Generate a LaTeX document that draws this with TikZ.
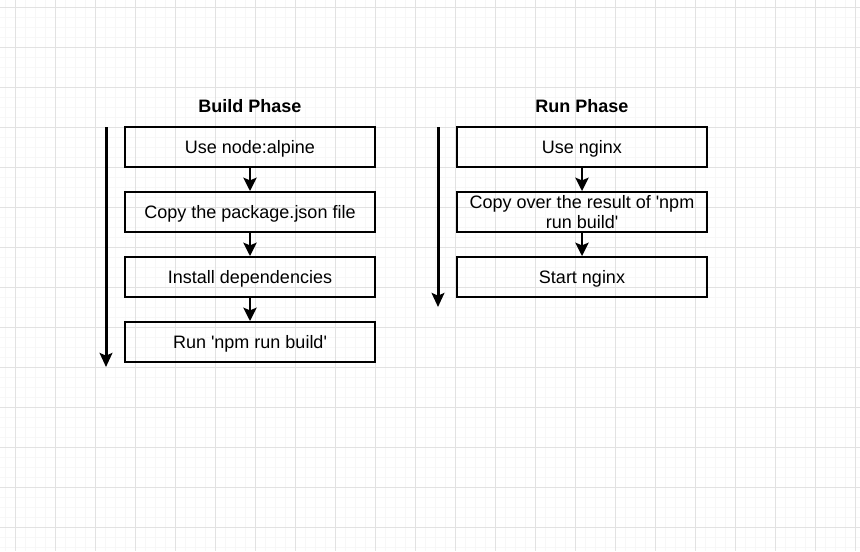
\documentclass[tikz,border=0pt]{standalone}
\usepackage{fontspec}
\setmainfont{Liberation Sans}
\usetikzlibrary{arrows.meta}
\definecolor{gmin}{HTML}{F7F7F7}
\definecolor{gmaj}{HTML}{E2E2E2}
\newcommand{\sq}{\textquotesingle}
\begin{document}
\begin{tikzpicture}[x=0.75pt,y=-0.75pt,
  box/.style={draw, line width=1.5pt, minimum width=187.5pt, minimum height=30pt,
    inner sep=0pt, font=\fontsize{13.5}{15.4}\selectfont},
  onebox/.style={box, text height=9.5pt, text depth=0pt},
  twobox/.style={box, align=center},
  title/.style={font=\fontsize{13.5}{15.4}\selectfont\bfseries},
  flow/.style={line width=1.5pt, -{Stealth[length=10pt,width=10pt,inset=2pt]}},
  phase/.style={line width=2.25pt, -{Stealth[length=10.5pt,width=9.5pt,inset=2pt]}},
  gminor/.style={gmin, line width=0.75pt},
  gmajor/.style={gmaj, line width=0.75pt}]
\useasboundingbox (0,0) rectangle (860,551);
\fill[white] (0,0) rectangle (860,551);
% grid
\foreach \k in {0,...,85} {\draw[gminor] ({5+10*\k},0) -- ({5+10*\k},551);}
\foreach \k in {0,...,54} {\draw[gminor] (0,{7+10*\k}) -- (860,{7+10*\k});}
\foreach \k in {0,...,21} {\draw[gmajor] ({15+40*\k},0) -- ({15+40*\k},551);}
\foreach \k in {0,...,13} {\draw[gmajor] (0,{7+40*\k}) -- (860,{7+40*\k});}
% titles
\node[title] (tb) at (250,106) {Build Phase};
\node[title] (tr) at (582,106) {Run Phase};
% build phase
\node[onebox] (b1) at (250,147) {Use node:alpine};
\node[onebox] (b2) at (250,212) {Copy the package.json file};
\node[onebox] (b3) at (250,277) {Install dependencies};
\node[onebox] (b4) at (250,342) {Run \sq npm run build\sq};
\draw[flow] (b1) -- (b2);
\draw[flow] (b2) -- (b3);
\draw[flow] (b3) -- (b4);
% run phase
\node[onebox] (r1) at (582,147) {Use nginx};
\node[twobox] (r2) at (582,212) {Copy over the result of \sq npm\\run build\sq};
\node[onebox] (r3) at (582,277) {Start nginx};
\draw[flow] (r1) -- (r2);
\draw[flow] (r2) -- (r3);
% phase arrows
\coordinate (la1) at (106,127);
\coordinate (la2) at (106,367);
\coordinate (ra1) at (438,127);
\coordinate (ra2) at (438,307);
\draw[phase] (la1) -- (la2);
\draw[phase] (ra1) -- (ra2);
\end{tikzpicture}
\end{document}
